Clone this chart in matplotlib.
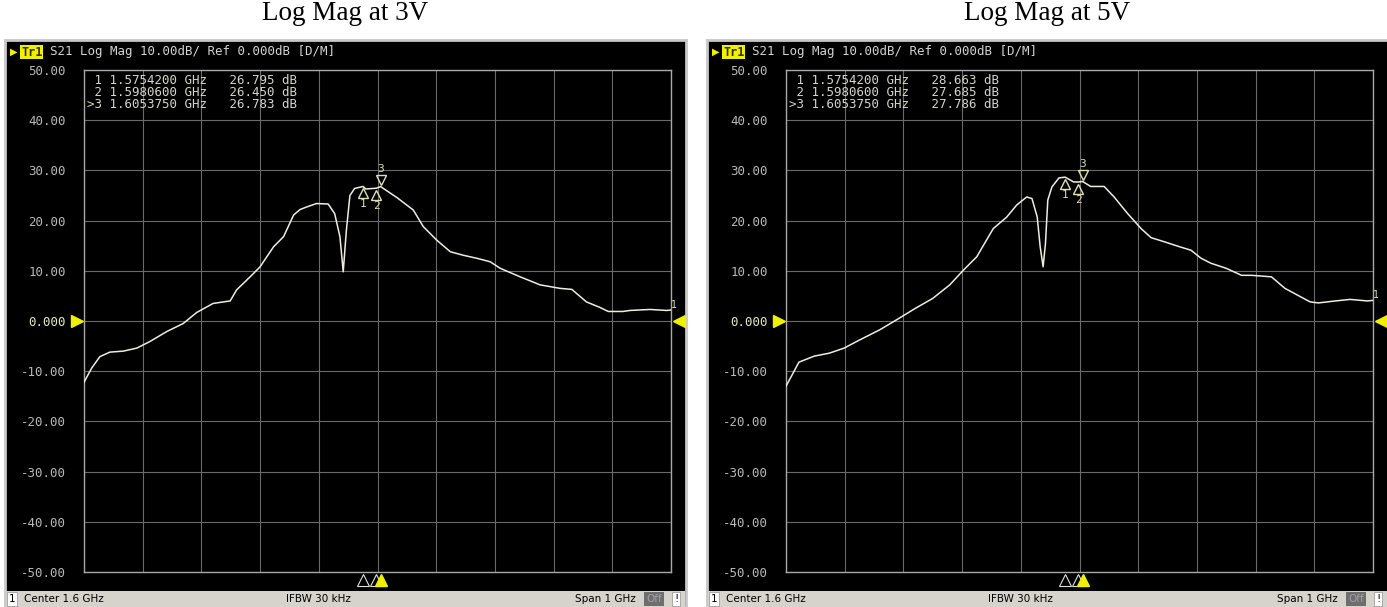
import numpy as np
import matplotlib.pyplot as plt
from matplotlib import transforms as mtrans

W, H = 1387, 607

# trace at 3 V (GHz, dB)
freq_3v = [1.100, 1.113, 1.127, 1.144, 1.167, 1.190, 1.212, 1.241, 1.269, 1.292,
           1.320, 1.349, 1.360, 1.383, 1.400, 1.423, 1.440, 1.457, 1.468, 1.479,
           1.496, 1.516, 1.527, 1.536, 1.5416, 1.547, 1.553, 1.561, 1.5754, 1.580,
           1.598, 1.6054, 1.610, 1.633, 1.661, 1.678, 1.701, 1.724, 1.746, 1.769,
           1.792, 1.809, 1.843, 1.877, 1.911, 1.931, 1.956, 1.979, 1.993, 2.018,
           2.030, 2.064, 2.093, 2.100]
mag_3v = [-12.2, -9.4, -7.1, -6.2, -6.0, -5.4, -4.1, -2.1, -0.5, 1.7,
          3.5, 4.0, 6.2, 8.8, 10.8, 14.8, 16.8, 21.1, 22.2, 22.7,
          23.4, 23.3, 21.4, 16.8, 9.8, 18.1, 25.0, 26.4, 26.8, 26.3,
          26.45, 26.78, 26.4, 24.6, 22.1, 18.8, 16.1, 13.8, 13.1, 12.5,
          11.8, 10.5, 8.8, 7.2, 6.5, 6.3, 3.8, 2.7, 1.9, 1.9,
          2.1, 2.3, 2.1, 2.2]

# trace at 5 V (GHz, dB)
freq_5v = [1.100, 1.122, 1.148, 1.174, 1.199, 1.225, 1.259, 1.285, 1.320, 1.350,
           1.379, 1.402, 1.425, 1.453, 1.476, 1.493, 1.510, 1.519, 1.528, 1.533,
           1.538, 1.542, 1.546, 1.553, 1.565, 1.5754, 1.590, 1.598, 1.6054, 1.619,
           1.642, 1.659, 1.682, 1.705, 1.722, 1.744, 1.773, 1.790, 1.807, 1.824,
           1.850, 1.876, 1.893, 1.927, 1.950, 1.993, 2.007, 2.036, 2.061, 2.090, 2.100]
mag_5v = [-13.0, -8.2, -7.0, -6.4, -5.4, -3.8, -1.8, 0.0, 2.5, 4.5,
          7.2, 10.1, 12.8, 18.4, 20.7, 23.1, 24.7, 24.4, 20.7, 14.8,
          10.8, 15.4, 24.1, 26.7, 28.5, 28.66, 27.7, 27.69, 27.79, 26.8,
          26.8, 24.7, 21.4, 18.4, 16.6, 15.8, 14.7, 14.1, 12.5, 11.5,
          10.5, 9.1, 9.1, 8.8, 6.5, 3.8, 3.6, 4.0, 4.3, 4.0, 4.1]

marker_freq = [1.5754200, 1.5980600, 1.6053750]
marker_3v = [26.795, 26.450, 26.783]
marker_5v = [28.663, 27.685, 27.786]

ytick_vals = [50, 40, 30, 20, 10, 0, -10, -20, -30, -40, -50]
ytick_text = ['50.00', '40.00', '30.00', '20.00', '10.00', '0.000',
              '-10.00', '-20.00', '-30.00', '-40.00', '-50.00']

MONO = 'DejaVu Sans Mono'
TRACE = '#efeedc'
MARK = '#e2e0b0'
YEL = '#f0f000'


def rect(x0, y0, x1, y1):
    return [x0 / W, 1 - y1 / H, (x1 - x0) / W, (y1 - y0) / H]


def fx(x):
    return x / W


def fy(y):
    return 1 - y / H


fig = plt.figure(figsize=(W / 100, H / 100), dpi=100)
fig.patch.set_facecolor('white')


def panel(ox, title, freqs, mags, mvals):
    fig.text(fx(ox + 345), fy(13), title, family='Liberation Serif', size=19.5,
             ha='center', va='center', color='black')

    # instrument screen
    scr = fig.add_axes(rect(ox + 5, 40, ox + 686, 607))
    scr.set_facecolor('black')
    scr.set_xticks([]); scr.set_yticks([])
    for s in scr.spines.values():
        s.set_color('#c8c8c8'); s.set_linewidth(2)

    bar = fig.add_axes(rect(ox + 6, 591, ox + 685, 607))
    bar.set_facecolor('#d6d3cc')
    bar.set_xticks([]); bar.set_yticks([])
    for s in bar.spines.values():
        s.set_visible(False)

    # status bar texts
    y_s = fy(599)
    fig.text(fx(ox + 12), y_s, '1', size=7.5, ha='center', va='center',
             bbox=dict(fc='white', ec='#909090', lw=0.5, boxstyle='square,pad=0.15'))
    fig.text(fx(ox + 24), y_s, 'Center 1.6 GHz', size=7.5, ha='left', va='center')
    fig.text(fx(ox + 318), y_s, 'IFBW 30 kHz', size=7.5, ha='center', va='center')
    fig.text(fx(ox + 636), y_s, 'Span 1 GHz', size=7.5, ha='right', va='center')
    fig.text(fx(ox + 654), y_s, 'Off', size=7.5, ha='center', va='center', color='#a0a0a0',
             bbox=dict(fc='#6e6e6e', ec='none', boxstyle='square,pad=0.2'))
    fig.text(fx(ox + 676), y_s, '!', size=7.5, ha='center', va='center',
             bbox=dict(fc='white', ec='#909090', lw=0.5, boxstyle='square,pad=0.2'))

    # header line
    fig.text(fx(ox + 10), fy(52), '\u25b6', size=7, color=YEL, ha='left', va='center')
    fig.text(fx(ox + 21), fy(52), 'Tr1', size=8.5, family=MONO, color='#303000',
             weight='bold', ha='left', va='center',
             bbox=dict(fc=YEL, ec='none', boxstyle='square,pad=0.05'))
    fig.text(fx(ox + 50), fy(52), 'S21 Log Mag 10.00dB/ Ref 0.000dB [D/M]',
             size=9, family=MONO, color='#d2d2d2', ha='left', va='center')

    # plotting grid
    ax = fig.add_axes(rect(ox + 84, 70, ox + 671, 572))
    ax.set_facecolor('black')
    ax.plot(freqs, mags, color=TRACE, lw=1.1, zorder=3)
    ax.set_xlim(1.1, 2.1)
    ax.set_ylim(-50, 50)
    ax.set_xticks(np.linspace(1.1, 2.1, 11))
    ax.set_yticks(ytick_vals, ytick_text)
    ax.grid(color='#6a6a6a', lw=0.8)
    ax.tick_params(length=0, labelbottom=False, labelsize=9, labelcolor='#b8b8b8', pad=13)
    for lab in ax.get_yticklabels():
        lab.set_family(MONO)
        if lab.get_text() == '0.000':
            lab.set_color('#e8e8c0')
    for s in ax.spines.values():
        s.set_color('#a8a8a8'); s.set_linewidth(1.0)

    # marker table
    for i, (f, v) in enumerate(zip(marker_freq, mvals)):
        tag = '>3' if i == 2 else ' %d' % (i + 1)
        fig.text(fx(ox + 87), fy(80 + 12 * i), '%s %.7f GHz   %.3f dB' % (tag, f, v),
                 size=9, family=MONO, color='#d6d6c8', ha='left', va='center')

    # marker symbols on the trace
    below = mtrans.offset_copy(ax.transData, fig=fig, x=0, y=-7, units='dots')
    above = mtrans.offset_copy(ax.transData, fig=fig, x=0, y=7, units='dots')
    for i, (f, v) in enumerate(zip(marker_freq, mvals)):
        if i < 2:
            ax.plot(f, v, marker='^', ms=7, mfc='none', mec=MARK, mew=1.0,
                    transform=below, zorder=4)
            ax.text(f, v, str(i + 1), color=MARK, size=8, family=MONO, ha='center',
                    va='top', transform=mtrans.offset_copy(ax.transData, fig=fig,
                                                            x=0, y=-13, units='dots'))
        else:
            ax.plot(f, v, marker='v', ms=7, mfc='none', mec=MARK, mew=1.0,
                    transform=above, zorder=4)
            ax.text(f, v, '3', color=MARK, size=8, family=MONO, ha='center',
                    va='bottom', transform=mtrans.offset_copy(ax.transData, fig=fig,
                                                               x=0, y=13, units='dots'))

    # stimulus indicators at the bottom
    bt = mtrans.blended_transform_factory(ax.transData, ax.transAxes)
    ax.plot(marker_freq[:2], [-0.015, -0.015], ls='none', marker='^', ms=9, mfc='black',
            mec='#e0e0e0', mew=0.8, transform=bt, clip_on=False, zorder=5)
    ax.plot(marker_freq[2], -0.015, marker='^', ms=9, mfc=YEL, mec=YEL,
            transform=bt, clip_on=False, zorder=6)

    # reference level arrows
    ay = mtrans.blended_transform_factory(ax.transAxes, ax.transData)
    ax.plot(-0.012, 0, marker='>', ms=9, color=YEL, transform=ay, clip_on=False)
    ax.plot(1.013, 0, marker='<', ms=9, color=YEL, transform=ay, clip_on=False)
    ax.text(1.0, mags[-1], '1', color=MARK, size=7, family=MONO, ha='left', va='bottom',
            transform=ay, clip_on=False)


panel(0, 'Log Mag at 3V', freq_3v, mag_3v, marker_3v)
panel(702, 'Log Mag at 5V', freq_5v, mag_5v, marker_5v)

fig.savefig('out.png', dpi=100, facecolor='white')
